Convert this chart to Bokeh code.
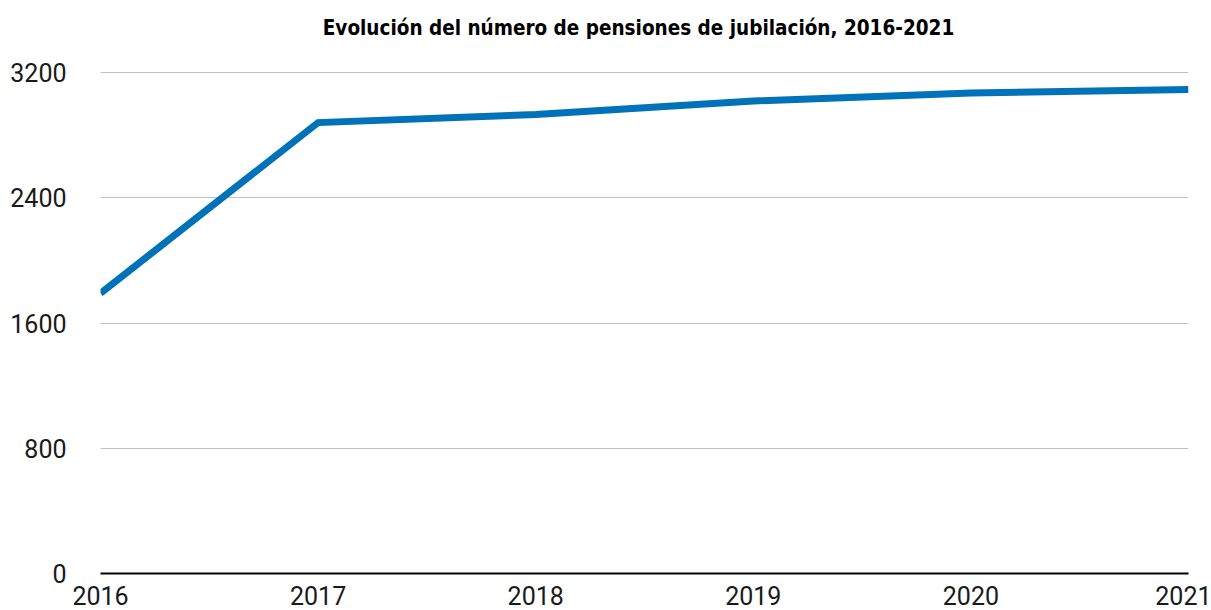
from bokeh.plotting import figure
from bokeh.models import Range1d, FixedTicker, Label
from bokeh.embed import file_html
from bokeh.resources import INLINE

years = [2016, 2017, 2018, 2019, 2020, 2021]
pensiones = [1790, 2880, 2932, 3018, 3069, 3091]
y_ticks = [0, 800, 1600, 2400, 3200]
title_text = "Evolución del número de pensiones de jubilación, 2016-2021"

# layout (pixels): plot area spans x 100..1188, value 3200 at y=72, 0 at y=573
W, H = 1211, 610
LEFT, RIGHT, TOP_VAL, BOTTOM = 100, 1188, 72, 573
y_top = y_ticks[-1] * (BOTTOM - 0) / (BOTTOM - TOP_VAL)

p = figure(width=W, height=H, output_backend="svg", toolbar_location=None,
           x_range=Range1d(years[0], years[-1]), y_range=Range1d(0, y_top),
           min_border_left=LEFT, min_border_right=W - RIGHT, min_border_top=0,
           min_border_bottom=H - BOTTOM)
p.outline_line_color = None
p.background_fill_color = "white"
p.border_fill_color = "white"

title = Label(x=(638 - LEFT), y=(BOTTOM - 27), x_units="screen", y_units="screen",
              text=title_text, text_font="DejaVu Sans Condensed", text_font_size="20.5px",
              text_font_style="bold", text_color="#000000",
              text_align="center", text_baseline="alphabetic")
p.add_layout(title)

p.line(years, pensiones, line_color="#0072b9", line_width=7, line_join="miter")

p.xgrid.grid_line_color = None
p.ygrid.grid_line_color = "#c0c0c0"
p.ygrid.grid_line_width = 1
p.ygrid.ticker = FixedTicker(ticks=y_ticks)

p.xaxis.ticker = FixedTicker(ticks=years)
p.xaxis.axis_line_color = "#000000"
p.xaxis.axis_line_width = 2
p.xaxis.major_tick_line_color = None
p.xaxis.minor_tick_line_color = None
p.xaxis.major_tick_out = 0
p.xaxis.major_tick_in = 0
p.xaxis.major_label_standoff = 12
p.xaxis.major_label_text_font = "Roboto"
p.xaxis.major_label_text_font_size = "25px"
p.xaxis.major_label_text_color = "#1a1a1a"

p.yaxis.ticker = FixedTicker(ticks=y_ticks)
p.yaxis.axis_line_color = None
p.yaxis.major_tick_line_color = None
p.yaxis.minor_tick_line_color = None
p.yaxis.major_tick_out = 0
p.yaxis.major_tick_in = 0
p.yaxis.major_label_standoff = 34
p.yaxis.major_label_text_font = "Roboto"
p.yaxis.major_label_text_font_size = "25px"
p.yaxis.major_label_text_color = "#1a1a1a"

open("out.html", "w").write(file_html(p, INLINE))
